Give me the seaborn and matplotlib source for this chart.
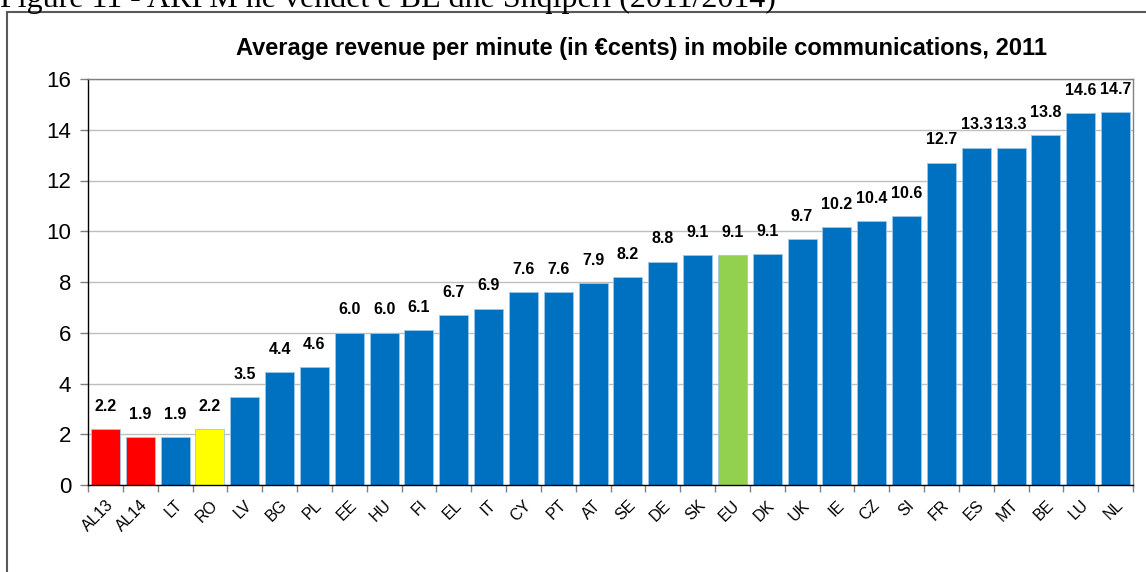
import matplotlib
matplotlib.use("Agg")
import matplotlib.pyplot as plt
import seaborn as sns
from matplotlib.patches import Rectangle

categories = ["AL13", "AL14", "LT", "RO", "LV", "BG", "PL", "EE", "HU", "FI",
              "EL", "IT", "CY", "PT", "AT", "SE", "DE", "SK", "EU", "DK",
              "UK", "IE", "CZ", "SI", "FR", "ES", "MT", "BE", "LU", "NL"]
values = [2.2, 1.9, 1.9, 2.2, 3.45, 4.45, 4.65, 6.0, 6.0, 6.1,
          6.7, 6.95, 7.6, 7.6, 7.95, 8.2, 8.8, 9.05, 9.05, 9.1,
          9.7, 10.15, 10.4, 10.6, 12.7, 13.3, 13.3, 13.8, 14.65, 14.7]
labels = ["2.2", "1.9", "1.9", "2.2", "3.5", "4.4", "4.6", "6.0", "6.0", "6.1",
          "6.7", "6.9", "7.6", "7.6", "7.9", "8.2", "8.8", "9.1", "9.1", "9.1",
          "9.7", "10.2", "10.4", "10.6", "12.7", "13.3", "13.3", "13.8", "14.6", "14.7"]
special_colors = {"AL13": "#FF0000", "AL14": "#FF0000", "RO": "#FFFF00", "EU": "#92D050"}
blue = "#0070C0"
palette = [special_colors.get(c, blue) for c in categories]

title = "Average revenue per minute (in \u20accents) in mobile communications, 2011"
caption = "Figure 11 - ARPM ne vendet e BE dhe Shqiperi (2011/2014)"

sns.set_theme(style="white")
plt.rcParams["font.family"] = ["Liberation Sans", "DejaVu Sans"]
plt.rcParams["text.color"] = "black"
plt.rcParams["xtick.labelcolor"] = "black"
plt.rcParams["ytick.labelcolor"] = "black"

fig = plt.figure(figsize=(11.46, 5.72), dpi=100)
ax = fig.add_axes([88/1146, 1-485/572, (1133-88)/1146, (485-79)/572])

sns.barplot(x=categories, y=values, hue=categories, palette=palette, legend=False,
            saturation=1, width=0.83, ax=ax, edgecolor="#9CC8E8", linewidth=0.6)

for container, lab in zip(ax.containers, labels):
    ax.bar_label(container, labels=[lab], padding=11, fontsize=11.5, fontweight="bold",
                 color="black")

ax.set_xlim(-0.5, len(categories) - 0.5)
ax.set_ylim(0, 16)
ax.set_yticks(range(0, 17, 2))
ax.yaxis.grid(True, color="#BFBFBF", linewidth=1)
ax.set_axisbelow(True)
ax.set_xlabel("")
ax.set_ylabel("")
ax.tick_params(axis="y", labelsize=16, length=6, width=1, color="#808080",
               left=True, pad=6, labelcolor="black")
ax.set_xticks(range(len(categories)))
ax.set_xticklabels(categories, rotation=45, ha="right", rotation_mode="anchor",
                   fontsize=11.5, color="black")
ax.tick_params(axis="x", length=0, pad=9)
ax.set_xticks([i - 0.5 for i in range(len(categories) + 1)], minor=True)
ax.tick_params(axis="x", which="minor", length=5, width=1, color="#808080", bottom=True)

for side in ["top", "right"]:
    ax.spines[side].set_color("#808080")
    ax.spines[side].set_linewidth(1)
for side in ["left", "bottom"]:
    ax.spines[side].set_color("black")
    ax.spines[side].set_linewidth(1)

fig.text(642/1146, 1-48/572, title, ha="center", va="center", fontsize=17,
         fontweight="bold", color="black")
fig.text(0, 1-7/572, caption, ha="left", va="baseline", fontsize=23,
         family="Liberation Serif", color="black")

fig.patches.append(Rectangle((7/1146, -0.1), 1.2, 1.1 - 12/572, transform=fig.transFigure,
                             fill=False, edgecolor="#595959", linewidth=1.5))

fig.savefig("out.png", dpi=100)
